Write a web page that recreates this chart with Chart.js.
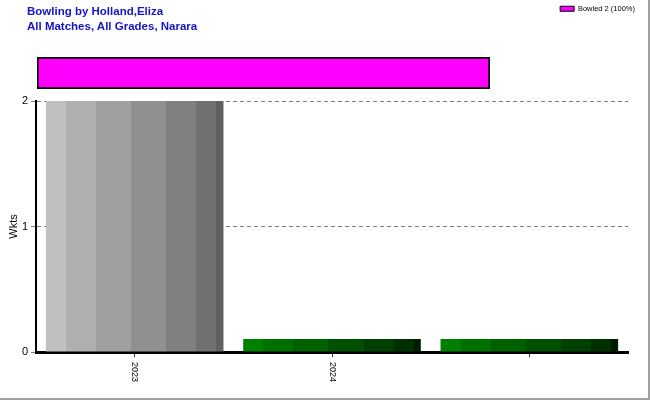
<!DOCTYPE html>
<html>
<head>
<meta charset="utf-8">
<title>Bowling by Holland,Eliza</title>
<script src="https://cdn.jsdelivr.net/npm/chart.js@4"></script>
<style>
  html, body { margin: 0; padding: 0; background: #fff; }
  #frame {
    position: relative; width: 650px; height: 400px; box-sizing: border-box;
    border-right: 2px solid #a0a0a0; border-bottom: 2px solid #a0a0a0; overflow: hidden;
  }
  #frame canvas { position: absolute; left: 0; top: 0; }
  #title {
    position: absolute; left: 27px; top: 4px;
    font: bold 11.5px 'Liberation Sans', Arial, sans-serif; line-height: 15px; color: #1414c8;
  }
</style>
</head>
<body>
<div id="frame">
  <canvas id="mainChart" width="650" height="400"></canvas>
  <canvas id="splitChart" width="650" height="96"></canvas>
  <div id="title">Bowling by Holland,Eliza<br>All Matches, All Grades, Narara</div>
</div>
<script>
// season totals
const SEASONS = ['2023', '2024', ''];
const WICKETS = [2, 0, 0];
const Y_TICKS = [0, 1, 2];

// how the wickets were taken
const DISMISSALS = ['Bowled'];
const DISMISSAL_COUNTS = [2];

// styles
const GREYS = ['#c0c0c0', '#b0b0b0', '#a0a0a0', '#909090', '#808080', '#707070', '#606060'];
const GREENS = ['#008000', '#007000', '#006000', '#005000', '#004000', '#003000', '#001c00'];
const STRIPE_STOPS = [0, 0.113, 0.282, 0.48, 0.678, 0.847, 0.96, 1];
const BAR_PCT = 0.9;

Chart.defaults.font.family = "'Liberation Sans', Arial, sans-serif";
Chart.defaults.color = '#000';

function stripeFill(ctx) {
  const chart = ctx.chart;
  const shades = ctx.dataIndex === 0 ? GREYS : GREENS;
  if (!chart.chartArea) return shades[0];
  const xs = chart.scales.x;
  const step = xs.getPixelForValue(1) - xs.getPixelForValue(0);
  const half = step * BAR_PCT / 2;
  const cx = xs.getPixelForValue(ctx.dataIndex);
  const g = chart.ctx.createLinearGradient(cx - half, 0, cx + half, 0);
  shades.forEach((c, i) => {
    g.addColorStop(STRIPE_STOPS[i], c);
    g.addColorStop(STRIPE_STOPS[i + 1], c);
  });
  return g;
}

new Chart(document.getElementById('mainChart'), {
  type: 'bar',
  data: {
    labels: SEASONS,
    datasets: [{
      label: 'Wkts',
      data: WICKETS,
      backgroundColor: stripeFill,
      borderWidth: 0,
      barPercentage: BAR_PCT,
      categoryPercentage: 1,
      minBarLength: 13
    }]
  },
  options: {
    responsive: false,
    animation: false,
    layout: { padding: { top: 101, right: 22, left: 0, bottom: 0 } },
    plugins: { legend: { display: false }, tooltip: { enabled: false } },
    scales: {
      x: {
        grid: { drawOnChartArea: false, offset: false, tickLength: 5, color: '#333' },
        border: { color: '#000', width: 3 },
        ticks: { minRotation: -90, maxRotation: -90, padding: 25, font: { size: 9 } },
        afterFit: s => { s.height = 48; }
      },
      y: {
        min: 0,
        max: 2,
        afterBuildTicks: s => { s.ticks = Y_TICKS.map(v => ({ value: v })); },
        grid: { color: '#808080', tickLength: 5 },
        border: { color: '#000', width: 2, dash: [4, 3] },
        ticks: { font: { size: 11 }, padding: 3 },
        title: { display: true, text: 'Wkts', font: { size: 11 }, padding: { top: 7, bottom: 0 } },
        afterFit: s => { s.width = 36; }
      }
    }
  }
});

const total = DISMISSAL_COUNTS.reduce((a, b) => a + b, 0);

new Chart(document.getElementById('splitChart'), {
  type: 'bar',
  data: {
    labels: [''],
    datasets: DISMISSALS.map((d, i) => ({
      label: d + ' ' + DISMISSAL_COUNTS[i] + ' (' + Math.round(DISMISSAL_COUNTS[i] / total * 100) + '%)',
      data: [DISMISSAL_COUNTS[i]],
      backgroundColor: '#ff00ff',
      borderColor: '#000',
      borderWidth: 2,
      borderSkipped: false,
      barPercentage: 1,
      categoryPercentage: 1
    }))
  },
  options: {
    indexAxis: 'y',
    responsive: false,
    animation: false,
    layout: { padding: { top: 0, right: 10, left: 37, bottom: 7 } },
    plugins: {
      legend: {
        position: 'top',
        align: 'end',
        labels: {
          boxWidth: 14, boxHeight: 5, padding: 5, font: { size: 7.5 },
          generateLabels: chart => Chart.defaults.plugins.legend.labels.generateLabels(chart)
            .map(item => Object.assign(item, { lineWidth: 1 }))
        }
      },
      tooltip: { enabled: false }
    },
    scales: {
      x: {
        position: 'top', stacked: true, min: 0, max: total,
        ticks: { display: false }, grid: { display: false }, border: { display: false },
        afterFit: s => { s.height = 34.5; }
      },
      y: {
        position: 'right', stacked: true,
        ticks: { display: false }, grid: { display: false }, border: { display: false },
        afterFit: s => { s.width = 150; }
      }
    }
  }
});
</script>
</body>
</html>
